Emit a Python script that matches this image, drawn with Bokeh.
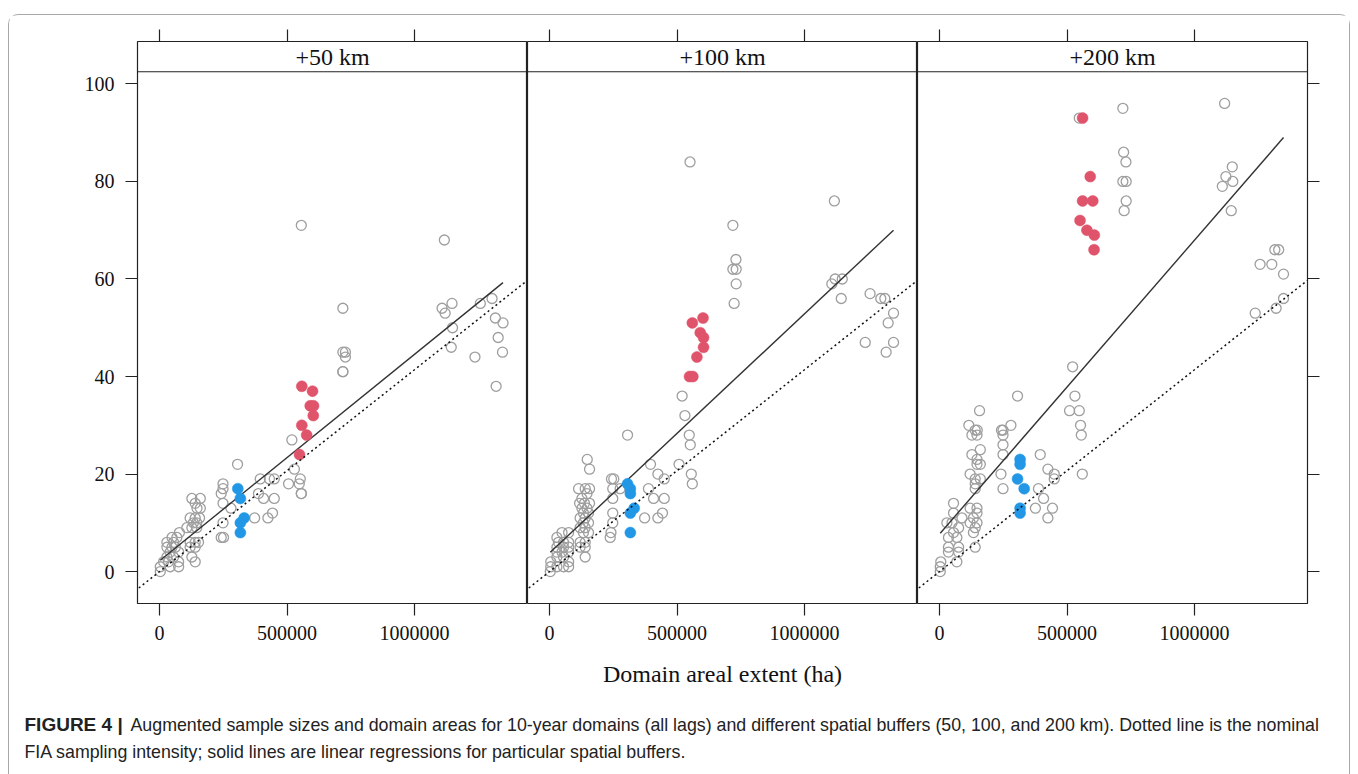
import numpy as np
from bokeh.plotting import figure
from bokeh.layouts import row, column
from bokeh.models import (Range1d, LinearAxis, FixedTicker, Label, Span, Slope,
                          BasicTickFormatter, CustomLabelingPolicy)
from bokeh.embed import file_html
from bokeh.resources import INLINE

# ---------------- data ----------------
panel_titles = ["+50 km", "+100 km", "+200 km"]
x_ticks = [0, 500000, 1000000]
y_ticks = [0, 20, 40, 60, 80, 100]
x_title = "Domain areal extent (ha)"
y_title = "Augmented sample size"

# +50 km
b50_gray_x = [3000, 3000, 16000, 35000, 42000, 75000, 29000, 55000, 75000, 29000, 49000, 75000, 29000, 55000,
              68000, 78000, 49000, 62000, 42000,
              127000, 160000, 140000, 147000, 160000, 120000, 140000, 157000, 133000, 146000, 107000, 127000,
              146000, 120000, 140000, 153000, 120000, 140000, 127000, 140000,
              306000, 249000, 249000, 242000, 249000, 280000, 249000, 242000, 251000,
              395000, 431000, 450000, 388000, 408000, 450000, 373000, 425000, 443000,
              519000, 529000, 506000, 548000, 552000, 556000, 556000, 556000,
              719000, 719000, 729000, 729000, 719000, 719000,
              1117000, 1108000, 1147000, 1120000, 1149000, 1144000,
              1258000, 1304000, 1317000, 1347000, 1328000, 1345000, 1237000, 1320000]
b50_gray_y = [0, 1, 2, 2, 1, 1, 3, 3, 2, 5, 5, 4, 6, 6,
              7, 8, 7, 5, 4,
              15, 15, 14, 13, 13, 11, 11, 11, 10, 10, 9, 9,
              9, 6, 6, 6, 5, 5, 3, 2,
              22, 18, 17, 16, 14, 13, 10, 7, 7,
              19, 19, 19, 16, 15, 15, 11, 11, 12,
              27, 21, 18, 18, 19, 16, 16, 71,
              54, 45, 45, 44, 41, 41,
              68, 54, 55, 53, 50, 46,
              55, 56, 52, 51, 48, 45, 44, 38]
b50_red_x = [558000, 600000, 591000, 604000, 603000, 558000, 577000, 549000]
b50_red_y = [38, 37, 34, 34, 32, 30, 28, 24]
b50_blue_x = [307000, 317000, 332000, 317000, 317000]
b50_blue_y = [17, 15, 11, 10, 8]

# +100 km
b100_gray_x = [3000, 5000, 29000, 55000, 75000, 5000, 29000, 55000, 75000, 29000, 49000, 75000, 29000, 55000,
               75000, 35000, 55000, 75000, 29000, 49000, 75000,
               114000, 140000, 157000, 127000, 147000, 118000, 137000, 157000, 127000, 147000, 133000, 153000,
               120000, 140000, 133000, 153000, 120000, 140000, 133000, 153000, 120000, 140000, 120000, 140000,
               140000, 148000, 157000,
               306000, 243000, 252000, 248000, 277000, 248000, 248000, 248000, 241000, 238000,
               396000, 425000, 450000, 388000, 408000, 450000, 373000, 425000, 443000,
               520000, 531000, 548000, 552000, 508000, 556000, 560000, 551000,
               719000, 731000, 719000, 732000, 732000, 724000,
               1117000, 1107000, 1120000, 1148000, 1144000,
               1257000, 1299000, 1315000, 1349000, 1328000, 1238000, 1349000, 1320000]
b100_gray_y = [0, 1, 1, 1, 1, 2, 3, 3, 2, 4, 4, 4, 5, 5,
               5, 6, 6, 6, 7, 8, 8,
               17, 17, 17, 15, 16, 14, 14, 14, 13, 13, 12, 12,
               11, 11, 10, 10, 9, 9, 8, 8, 6, 6, 5, 5,
               3, 23, 21,
               28, 19, 19, 17, 17, 15, 12, 10, 8, 7,
               22, 20, 19, 17, 15, 15, 11, 11, 12,
               36, 32, 28, 26, 22, 20, 18, 84,
               71, 64, 62, 62, 59, 55,
               76, 59, 60, 60, 56,
               57, 56, 56, 53, 51, 47, 47, 45]
b100_red_x = [560000, 602000, 591000, 604000, 604000, 578000, 549000, 562000]
b100_red_y = [51, 52, 49, 48, 46, 44, 40, 40]
b100_blue_x = [306000, 317000, 317000, 332000, 317000, 317000]
b100_blue_y = [18, 17, 16, 13, 12, 8]

# +200 km
b200_gray_x = [3000, 3000, 5000, 35000, 68000, 75000, 35000, 75000, 35000, 68000, 55000, 75000, 49000, 29000,
               88000, 55000, 55000,
               157000, 115000, 140000, 148000, 127000, 147000, 160000, 127000, 147000, 147000, 160000, 120000,
               140000, 160000, 140000, 140000, 120000, 147000, 147000, 133000, 147000, 120000, 140000, 133000,
               140000,
               249000, 243000, 249000, 280000, 249000, 249000, 241000, 249000, 306000,
               395000, 425000, 450000, 450000, 388000, 408000, 376000, 443000, 425000,
               522000, 531000, 510000, 548000, 553000, 556000, 560000, 548000,
               719000, 722000, 731000, 719000, 732000, 732000, 724000,
               1118000, 1148000, 1123000, 1109000, 1150000, 1144000,
               1315000, 1330000, 1257000, 1303000, 1349000, 1238000, 1349000, 1320000]
b200_gray_y = [0, 1, 2, 4, 2, 4, 5, 5, 7, 7, 8, 9, 10, 10,
               11, 12, 14,
               33, 30, 29, 29, 28, 28, 25, 24, 23, 22, 22, 20,
               19, 19, 18, 17, 13, 13, 12, 11, 10, 10, 9, 8,
               5,
               29, 29, 28, 30, 26, 24, 20, 17, 36,
               24, 21, 20, 19, 17, 15, 13, 13, 11,
               42, 36, 33, 33, 30, 28, 20, 93,
               95, 86, 84, 80, 80, 76, 74,
               96, 83, 81, 79, 80, 74,
               66, 66, 63, 63, 61, 53, 56, 54]
b200_red_x = [561000, 591000, 561000, 601000, 551000, 578000, 607000, 606000]
b200_red_y = [93, 81, 76, 76, 72, 70, 69, 66]
b200_blue_x = [316000, 316000, 306000, 332000, 316000, 316000]
b200_blue_y = [23, 22, 19, 17, 13, 12]

# regression lines (intercept, slope per ha)
fit_intercepts = [2.2, 3.8, 7.7]
fit_slopes = [4.236e-5, 4.907e-5, 6.027e-5]
# nominal FIA sampling intensity (plots per ha)
nominal_slope = 4.14e-5

caption_bold = "FIGURE 4 |"
caption_line1 = ("Augmented sample sizes and domain areas for 10-year domains (all lags) and different spatial "
                 "buffers (50, 100, and 200 km). Dotted line is the nominal")
caption_line2 = "FIA sampling intensity; solid lines are linear regressions for particular spatial buffers."

# ---------------- styling / layout ----------------
X_LO, X_HI = -86300, 1443000
Y_LO, Y_TOP = -6.54, 108.7
STRIP_Y = 102.5
FIG_H = 685
MB_TOP, MB_BOT = 26, 97
SERIF = "Liberation Serif"
GRAY, RED, BLUE = "#9E9E9E", "#DF536B", "#2297E6"
INK = "#222222"


def style_axis(ax, labels=True, standoff=6):
    ax.axis_line_color = None
    ax.major_tick_line_color = INK
    ax.major_tick_line_width = 1.2
    ax.major_tick_out = 12
    ax.major_tick_in = 0
    ax.minor_tick_line_color = None
    ax.major_label_text_font = SERIF
    ax.major_label_text_color = "#111111"
    if labels:
        ax.major_label_text_font_size = "20px"
        ax.major_label_standoff = standoff
    else:
        ax.major_label_text_font_size = "0px"
        ax.major_label_standoff = 0
        ax.major_label_policy = CustomLabelingPolicy(code="return []")


def make_panel(i, gx, gy, rx, ry, bx, by, width, mbl, mbr):
    p = figure(width=width, height=FIG_H, x_range=Range1d(X_LO, X_HI), y_range=Range1d(Y_LO, Y_TOP),
               output_backend="svg", toolbar_location=None, title=None,
               x_axis_location=None, y_axis_location=None,
               min_border_left=mbl, min_border_right=mbr, min_border_top=MB_TOP, min_border_bottom=MB_BOT,
               background_fill_color="white", border_fill_color="white")
    p.grid.visible = False
    p.outline_line_color = INK
    p.outline_line_width = 1.2

    bot = LinearAxis(ticker=FixedTicker(ticks=x_ticks), formatter=BasicTickFormatter(use_scientific=False))
    style_axis(bot, True, 10)
    if i == 1:
        bot.axis_label = x_title
        bot.axis_label_text_font = SERIF
        bot.axis_label_text_font_size = "24px"
        bot.axis_label_text_font_style = "normal"
        bot.axis_label_text_color = "#111111"
        bot.axis_label_standoff = 18
    p.add_layout(bot, "below")

    top = LinearAxis(ticker=FixedTicker(ticks=x_ticks))
    style_axis(top, False)
    p.add_layout(top, "above")

    if i == 0:
        left = LinearAxis(ticker=FixedTicker(ticks=y_ticks))
        style_axis(left, True, 11)
        p.add_layout(left, "left")
        p.add_layout(Label(x=-86, x_units="screen", y=(Y_LO + STRIP_Y) / 2, text=y_title,
                           angle=np.pi / 2, text_align="center", text_baseline="middle",
                           text_font=SERIF, text_font_size="24px", text_color="#111111"))
    if i == 2:
        right = LinearAxis(ticker=FixedTicker(ticks=y_ticks))
        style_axis(right, False)
        p.add_layout(right, "right")

    # strip
    p.add_layout(Span(location=STRIP_Y, dimension="width", line_color=INK, line_width=1.2))
    p.add_layout(Label(x=(X_LO + X_HI) / 2, y=(STRIP_Y + Y_TOP) / 2, text=panel_titles[i],
                       text_align="center", text_baseline="middle",
                       text_font=SERIF, text_font_size="24px", text_color="#111111"))

    p.scatter(gx, gy, marker="circle", size=10, fill_color=None, line_color=GRAY, line_width=1.3)

    # regression line over the data extent
    allx = np.array(gx + rx + bx, dtype=float)
    xs = np.array([allx.min(), allx.max()])
    p.line(xs, fit_intercepts[i] + fit_slopes[i] * xs, line_color="#333333", line_width=1.4)
    # nominal sampling intensity
    p.add_layout(Slope(gradient=nominal_slope, y_intercept=0, line_color="#111111",
                       line_width=1.5, line_dash="2 3"))

    p.scatter(rx, ry, marker="circle", size=11, fill_color=RED, line_color=RED, line_width=0.5)
    p.scatter(bx, by, marker="circle", size=11, fill_color=BLUE, line_color=BLUE, line_width=0.5)
    return p


p1 = make_panel(0, b50_gray_x, b50_gray_y, b50_red_x, b50_red_y, b50_blue_x, b50_blue_y, 518, 128, 0)
p2 = make_panel(1, b100_gray_x, b100_gray_y, b100_red_x, b100_red_y, b100_blue_x, b100_blue_y, 390, 0, 0)
p3 = make_panel(2, b200_gray_x, b200_gray_y, b200_red_x, b200_red_y, b200_blue_x, b200_blue_y, 432, 0, 42)

CAP_H = 74
cap = figure(width=1340, height=CAP_H, x_range=Range1d(0, 1340), y_range=Range1d(0, CAP_H),
             output_backend="svg", toolbar_location=None, title=None,
             x_axis_location=None, y_axis_location=None,
             min_border_left=0, min_border_right=0, min_border_top=0, min_border_bottom=0,
             border_fill_color="white", background_fill_color="white")
cap.grid.visible = False
cap.outline_line_color = None
CAP_FONT = "Liberation Sans"
cap.add_layout(Label(x=15, y=CAP_H - 24, x_units="screen", y_units="screen", text=caption_bold,
                     text_font=CAP_FONT, text_font_style="bold", text_font_size="19px",
                     text_baseline="middle", text_color="#222222"))
cap.add_layout(Label(x=121, y=CAP_H - 24, x_units="screen", y_units="screen", text=caption_line1,
                     text_font=CAP_FONT, text_font_size="17.8px", text_baseline="middle", text_color="#222222"))
cap.add_layout(Label(x=15, y=CAP_H - 51, x_units="screen", y_units="screen", text=caption_line2,
                     text_font=CAP_FONT, text_font_size="17.8px", text_baseline="middle", text_color="#222222"))

layout = column(row(p1, p2, p3), cap, margin=(14, 8, 0, 8),
                styles={"border": "1px solid #a8a8a8", "border-bottom": "none",
                        "border-radius": "10px 10px 0 0"})

open("out.html", "w").write(file_html(layout, INLINE))
